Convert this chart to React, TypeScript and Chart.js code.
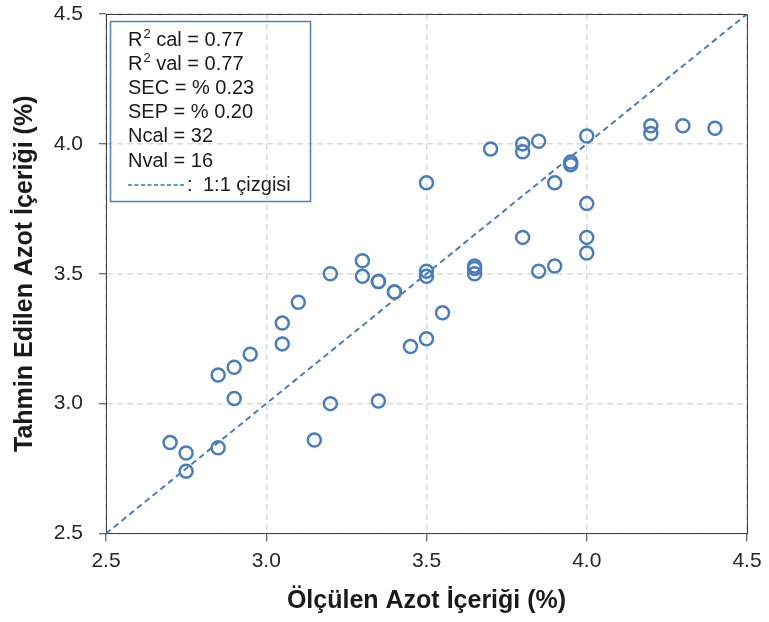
import React, { useEffect, useRef } from 'react';
import { Chart, registerables } from 'chart.js';

Chart.register(...registerables);

// Measured (x) and predicted (y) nitrogen content, %
const measured = [
  2.70, 2.75, 2.75, 2.85, 2.85, 2.90, 2.90, 2.95, 3.05, 3.05,
  3.10, 3.20, 3.20, 3.15, 3.30, 3.30, 3.35, 3.35, 3.40, 3.40,
  3.45, 3.50, 3.50, 3.50, 3.50, 3.55, 3.65, 3.65, 3.65, 3.70,
  3.80, 3.80, 3.80, 3.85, 3.85, 3.90, 3.90, 3.95, 3.95, 4.00,
  4.00, 4.00, 4.00, 4.20, 4.20, 4.30, 4.40, 3.35,
];
const predicted = [
  2.85, 2.81, 2.74, 2.83, 3.11, 3.14, 3.02, 3.19, 3.31, 3.23,
  3.39, 3.50, 3.00, 2.86, 3.55, 3.49, 3.47, 3.01, 3.43, 3.43,
  3.22, 3.51, 3.49, 3.25, 3.85, 3.35, 3.53, 3.52, 3.50, 3.98,
  4.00, 3.97, 3.64, 4.01, 3.51, 3.85, 3.53, 3.93, 3.92, 4.03,
  3.77, 3.64, 3.58, 4.07, 4.04, 4.07, 4.06, 3.47,
];
const oneToOneX = [2.5, 4.5];
const oneToOneY = [2.5, 4.5];
const axisTicks = [2.5, 3.0, 3.5, 4.0, 4.5];
const statsLines = [
  'R² cal = 0.77',
  'R² val = 0.77',
  'SEC = % 0.23',
  'SEP = % 0.20',
  'Ncal = 32',
  'Nval = 16',
];
const lineLegendText = '1:1 çizgisi';
const xTitle = 'Ölçülen Azot İçeriği (%)';
const yTitle = 'Tahmin Edilen Azot İçeriği (%)';

const FONT = '"Liberation Sans", Arial, sans-serif';
const BLUE = '#4A7EBB';
const AXIS = '#404040';

const overlayPlugin = {
  id: 'overlay',
  afterDraw(chart: any) {
    const ctx = chart.ctx;
    const a = chart.chartArea;
    ctx.save();
    // plot area top/right border
    ctx.strokeStyle = AXIS;
    ctx.lineWidth = 1;
    ctx.setLineDash([]);
    ctx.beginPath();
    ctx.moveTo(Math.round(a.left) + 0.5, Math.round(a.top) + 0.5);
    ctx.lineTo(Math.round(a.right) + 0.5, Math.round(a.top) + 0.5);
    ctx.lineTo(Math.round(a.right) + 0.5, Math.round(a.bottom) + 0.5);
    ctx.stroke();

    // axis titles
    ctx.fillStyle = '#1a1a1a';
    ctx.font = `bold 25px ${FONT}`;
    ctx.textAlign = 'center';
    ctx.textBaseline = 'middle';
    ctx.fillText(xTitle, (a.left + a.right) / 2, 601);
    ctx.save();
    ctx.translate(25, (a.top + a.bottom) / 2);
    ctx.rotate(-Math.PI / 2);
    ctx.fillText(yTitle, 0, 0);
    ctx.restore();

    // statistics box
    ctx.strokeStyle = '#4F81BD';
    ctx.lineWidth = 1.5;
    ctx.strokeRect(110.5, 21.5, 200, 180);

    ctx.fillStyle = '#1a1a1a';
    ctx.textBaseline = 'middle';
    ctx.textAlign = 'left';
    const x0 = 128;
    const y0 = 40.5;
    const dy = 24.1;
    statsLines.forEach((line, i) => {
      const y = y0 + i * dy;
      if (line.startsWith('R²')) {
        ctx.font = `20px ${FONT}`;
        ctx.fillText('R', x0, y);
        const wR = ctx.measureText('R').width;
        ctx.font = `13px ${FONT}`;
        ctx.fillText('2', x0 + wR + 1, y - 6);
        const w2 = ctx.measureText('2').width;
        ctx.font = `20px ${FONT}`;
        ctx.fillText(line.slice(2), x0 + wR + 1 + w2, y);
      } else {
        ctx.font = `20px ${FONT}`;
        ctx.fillText(line, x0, y);
      }
    });
    const yl = y0 + 6 * dy;
    ctx.strokeStyle = '#2E75C6';
    ctx.lineWidth = 1.5;
    ctx.setLineDash([4, 2.5]);
    ctx.beginPath();
    ctx.moveTo(x0, yl);
    ctx.lineTo(186, yl);
    ctx.stroke();
    ctx.setLineDash([]);
    ctx.font = `20px ${FONT}`;
    ctx.fillText(':', 187, yl);
    ctx.fillText(lineLegendText, 203, yl);
    ctx.restore();
  },
};

export default function App() {
  const ref = useRef<HTMLCanvasElement | null>(null);
  useEffect(() => {
    if (!ref.current) return;
    const chart = new Chart(ref.current, {
      type: 'scatter',
      data: {
        datasets: [
          {
            label: '1:1',
            data: oneToOneX.map((x, i) => ({ x, y: oneToOneY[i] })),
            showLine: true,
            borderColor: BLUE,
            borderWidth: 2,
            borderDash: [6, 4],
            pointRadius: 0,
            fill: false,
          },
          {
            label: 'points',
            data: measured.map((x, i) => ({ x, y: predicted[i] })),
            showLine: false,
            pointRadius: 6.5,
            pointBorderWidth: 2.5,
            pointBackgroundColor: 'rgba(0,0,0,0)',
            pointBorderColor: BLUE,
            borderColor: BLUE,
          },
        ],
      },
      options: {
        responsive: false,
        animation: false,
        layout: { padding: { left: 0, top: 14, right: 22, bottom: 0 } },
        plugins: {
          legend: { display: false },
          tooltip: { enabled: false },
        },
        scales: {
          x: {
            type: 'linear',
            min: 2.5,
            max: 4.5,
            afterBuildTicks: (s: any) => {
              s.ticks = axisTicks.map((v) => ({ value: v }));
            },
            afterFit: (s: any) => {
              s.height = 88.5;
              s.paddingTop = 0;
              s.paddingRight = 0;
              s.paddingLeft = 0;
            },
            ticks: {
              callback: (v: any) => Number(v).toFixed(1),
              font: { family: FONT, size: 21 },
              color: '#262626',
              padding: 7,
              maxRotation: 0,
            },
            grid: {
              color: '#D9D9D9',
              lineWidth: 1.5,
              tickColor: AXIS,
              tickLength: 8,
              tickWidth: 1,
            },
            border: { display: true, color: AXIS, width: 1, dash: [6, 4] },
            title: { display: false },
          },
          y: {
            type: 'linear',
            min: 2.5,
            max: 4.5,
            afterBuildTicks: (s: any) => {
              s.ticks = axisTicks.map((v) => ({ value: v }));
            },
            afterFit: (s: any) => {
              s.width = 106;
              s.paddingTop = 0;
              s.paddingBottom = 0;
            },
            ticks: {
              callback: (v: any) => Number(v).toFixed(1),
              font: { family: FONT, size: 21 },
              color: '#262626',
              padding: 16,
            },
            grid: {
              color: '#D9D9D9',
              lineWidth: 1.5,
              tickColor: AXIS,
              tickLength: 7,
              tickWidth: 1,
            },
            border: { display: true, color: AXIS, width: 1, dash: [6, 4] },
            title: { display: false },
          },
        },
      },
      plugins: [overlayPlugin],
    } as any);
    return () => chart.destroy();
  }, []);
  return (
    <div style={{ position: 'absolute', left: 0, top: 0, width: 769, height: 622, background: '#fff' }}>
      <canvas ref={ref} width={769} height={622} style={{ width: 769, height: 622 }} />
    </div>
  );
}
